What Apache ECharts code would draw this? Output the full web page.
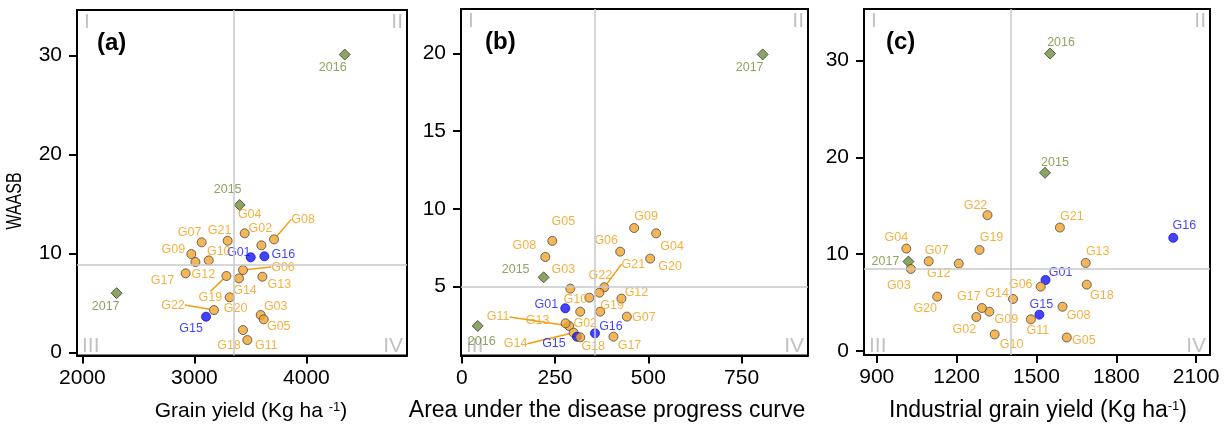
<!DOCTYPE html>
<html><head><meta charset="utf-8">
<script src="https://cdn.jsdelivr.net/npm/echarts@6/dist/echarts.min.js"></script>
<style>html,body{margin:0;padding:0;background:#fff}#c{width:1226px;height:425px}</style>
</head><body><div id="c"></div>
<script>
// ---------------- data ----------------
const genotypes = ['G01','G02','G03','G04','G05','G06','G07','G08','G09','G10','G11','G12','G13','G14','G15','G16','G17','G18','G19','G20','G21','G22'];
const highlighted = ['G01','G15','G16'];
const years = ['2015','2016','2017'];

// (a) grain yield vs WAASB
const grainYieldGeno = [3503,3598,3592,3449,3619,3434,3065,3711,2973,3128,3473,3009,3607,3398,3104,3625,2922,3434,3286,3315,3297,3175];
const waasbGrainGeno = [9.62,10.83,3.79,12.04,3.35,8.33,11.13,11.43,9.95,9.31,1.26,9.14,7.66,7.49,3.62,9.72,8.0,2.27,7.73,5.58,11.29,4.29];
const grainYieldYear = [3404,4342,2306];
const waasbGrainYear = [14.9,30.1,6.0];

// (b) AUDPC vs WAASB
const audpcGeno = [277.5,317.6,291,521,242.7,424.7,442.6,224,462,342,288,428,278.3,299.7,308.8,357,406.7,317.6,371,505,382,369];
const waasbAudpcGeno = [3.61,3.39,4.87,8.43,7.94,7.25,3.07,6.91,8.77,4.29,2.47,4.23,2.64,2.04,1.78,2.0,1.78,1.74,3.39,6.8,4.96,4.61];
const audpcYear = [219.5,42.8,806.5];
const waasbAudpcYear = [5.6,2.47,19.94];

// (c) industrial grain yield vs WAASB
const indYieldGeno = [1534,1274,1028,1011,1614,1516,1095,1598,1323,1343,1479,1208,1685,1412,1511,2014,1295,1689,1286,1127,1588,1316];
const waasbIndGeno = [7.34,3.52,8.48,10.58,1.41,6.65,9.27,4.58,4.07,1.72,3.28,9.03,9.10,5.38,3.76,11.69,4.45,6.86,10.44,5.62,12.75,14.03];
const indYieldYear = [1532,1551,1019];
const waasbIndYear = [18.4,30.7,9.24];

// mean reference lines
const meanX = [3351, 356, 1402];
const meanY = [8.84, 4.97, 8.45];

// tick labels
const xTicksA = [2000,3000,4000];
const xTicksB = [0,250,500,750];
const xTicksC = [900,1200,1500,1800,2100];
const yTicksA = [0,10,20,30];
const yTicksB = [5,10,15,20];
const yTicksC = [0,10,20,30];

const panelTags = ['(a)','(b)','(c)'];
const quadrantNames = ['I','II','III','IV'];

// ---------------- styles / layout ----------------
const FONT = "'Liberation Sans', Arial, Helvetica, sans-serif";
const ORANGE = '#F39E10', ORANGE_FILL = '#F2A42A', BLUE = '#1414FA', GREEN = '#6F8E3A';

const labelOffsets = [
 {G01:[-12,-5],G02:[-1,-17],G03:[15,-8],G04:[5,-19],G05:[15,7],G06:[40,-3],G07:[-12,-10],G08:[29,-20],G09:[-18,-4],G10:[10,-9],G11:[19,5],G12:[8,13],G13:[17,8],G14:[6,12],G15:[-15,12],G16:[19,-2],G17:[-23,7],G18:[-14,15],G19:[-16,22],G20:[6,11],G21:[-8,-10],G22:[-41,-5],'2015':[-12,-15],'2016':[-12,13],'2017':[-11,13]},
 {G01:[-19,-4],G02:[5,12],G03:[-7,-19],G04:[16,13],G05:[11,-19],G06:[-14,-11],G07:[17,1],G08:[-21,-11],G09:[12,-11],G10:[-14,2],G11:[-71,-9],G12:[15,-6],G13:[-28,-3],G14:[-58,11],G15:[-23,7],G16:[16,-7],G17:[16,9],G18:[13,9],G19:[12,-6],G20:[20,8],G21:[29,-23],G22:[1,-17],'2015':[-28,-8],'2016':[4,16],'2017':[-13,13]},
 {G01:[15,-7],G02:[-12,13],G03:[-12,17],G04:[-10,-11],G05:[17,3],G06:[-20,-2],G07:[8,-11],G08:[16,9],G09:[17,8],G10:[17,10],G11:[7,11],G12:[-20,10],G13:[12,-11],G14:[-16,-5],G15:[2,-10],G16:[11,-12],G17:[-13,-11],G18:[15,11],G19:[12,-12],G20:[-12,12],G21:[12,-11],G22:[-12,-10],'2015':[10,-10],'2016':[11,-11],'2017':[-23,0]}
];
const leaders = [['G06','G08','G19','G22'],['G11','G14','G21'],[]];

const grids = [
  {left:77, top:10, width:330, height:345.5},
  {left:461, top:9, width:347, height:346.5},
  {left:864, top:9, width:346, height:346}
];
const xRanges = [[1952,4898],[-2,928],[852,2152]];
const yRanges = [[-0.3,34.6],[0.57,22.86],[-0.4,35.3]];
const xTicks = [xTicksA,xTicksB,xTicksC];
const yTicks = [yTicksA,yTicksB,yTicksC];
const genoX = [grainYieldGeno,audpcGeno,indYieldGeno];
const genoY = [waasbGrainGeno,waasbAudpcGeno,waasbIndGeno];
const yearX = [grainYieldYear,audpcYear,indYieldYear];
const yearY = [waasbGrainYear,waasbAudpcYear,waasbIndYear];

const plain = v => String(v);
const xAxes = [], yAxes = [], series = [], graphics = [];
grids.forEach((g,i)=>{
  xAxes.push({gridIndex:i,type:'value',min:xRanges[i][0],max:xRanges[i][1],
    splitLine:{show:false},
    axisLine:{show:true,onZero:false,lineStyle:{color:'#000',width:2}},
    axisTick:{show:true,length:8,customValues:xTicks[i],lineStyle:{color:'#000',width:2}},
    axisLabel:{customValues:xTicks[i],formatter:plain,fontSize:21,color:'#000',margin:12,fontFamily:FONT}});
  yAxes.push({gridIndex:i,type:'value',min:yRanges[i][0],max:yRanges[i][1],
    splitLine:{show:false},
    axisLine:{show:true,onZero:false,lineStyle:{color:'#000',width:2}},
    axisTick:{show:true,length:8,customValues:yTicks[i],lineStyle:{color:'#000',width:2}},
    axisLabel:{customValues:yTicks[i],formatter:plain,fontSize:21,color:'#000',margin:15,fontFamily:FONT}});
  // mean lines
  series.push({type:'scatter',xAxisIndex:i,yAxisIndex:i,data:[],z:1,silent:true,
    markLine:{silent:true,symbol:'none',label:{show:false},animation:false,
      lineStyle:{color:'#C9C9C9',width:1.5,type:'solid'},
      data:[{xAxis:meanX[i]},{yAxis:meanY[i]}]}});
  // genotypes
  series.push({type:'scatter',xAxisIndex:i,yAxisIndex:i,z:4,symbol:'circle',symbolSize:9,silent:true,
    itemStyle:{color:ORANGE_FILL,borderColor:'#4a4a4a',borderWidth:1},
    label:{show:true,position:'inside',formatter:'{b}',fontSize:12.5,fontFamily:FONT,color:ORANGE,align:'center',verticalAlign:'middle'},
    data:genotypes.map((name,k)=>{
      const hi = highlighted.includes(name);
      return {name, value:[genoX[i][k],genoY[i][k]],
        itemStyle: hi ? {color:BLUE,borderColor:'#1010c8',borderWidth:1} : undefined,
        label:{offset:labelOffsets[i][name],color: hi?BLUE:ORANGE},
        labelLine:{show:leaders[i].includes(name),lineStyle:{color:hi?BLUE:ORANGE,width:1.5}}};
    })});
  // years
  series.push({type:'scatter',xAxisIndex:i,yAxisIndex:i,z:3,symbol:'diamond',symbolSize:11,silent:true,
    itemStyle:{color:GREEN,borderColor:'#3b3b3b',borderWidth:1},
    label:{show:true,position:'inside',formatter:'{b}',fontSize:12.5,fontFamily:FONT,color:GREEN,align:'center',verticalAlign:'middle'},
    data:years.map((name,k)=>({name,value:[yearX[i][k],yearY[i][k]],label:{offset:labelOffsets[i][name]}}))});
  // panel tag
  graphics.push({type:'text',left:g.left+[20,24,22][i],top:g.top+21,z:10,silent:true,
    style:{text:panelTags[i],font:`bold 24px ${FONT}`,fill:'#000'}});
  // quadrant labels
  const qs = {font:`21px ${FONT}`,fill:'#C2C2C2',verticalAlign:'middle'};
  graphics.push({type:'text',x:g.left+7,y:g.top+12,silent:true,style:Object.assign({text:quadrantNames[0],align:'left'},qs)});
  graphics.push({type:'text',x:g.left+g.width-4,y:g.top+12,silent:true,style:Object.assign({text:quadrantNames[1],align:'right'},qs)});
  graphics.push({type:'text',x:g.left+5,y:g.top+g.height-9,silent:true,style:Object.assign({text:quadrantNames[2],align:'left'},qs)});
  graphics.push({type:'text',x:g.left+g.width-4,y:g.top+g.height-9,silent:true,style:Object.assign({text:quadrantNames[3],align:'right'},qs)});
});

// axis titles
const supRich = {sup:{fontSize:13,fontFamily:FONT,fill:'#000',verticalAlign:'top',padding:[0,0,8,0]}};
graphics.push({type:'text',x:251,y:411,silent:true,style:{text:'Grain yield (Kg ha {sup|-1})',font:`21px ${FONT}`,fill:'#000',align:'center',verticalAlign:'middle',rich:supRich}});
graphics.push({type:'text',x:607,y:411,silent:true,style:{text:'Area under the disease progress curve',font:`23px ${FONT}`,fill:'#000',align:'center',verticalAlign:'middle'}});
graphics.push({type:'text',x:1038,y:411,silent:true,style:{text:'Industrial grain yield (Kg ha{sup|-1})',font:`23px ${FONT}`,fill:'#000',align:'center',verticalAlign:'middle',rich:supRich}});
graphics.push({type:'text',x:15,y:201,rotation:Math.PI/2,scaleX:0.76,scaleY:1.05,silent:true,style:{text:'WAASB',fontSize:21,fontFamily:FONT,fill:'#000',align:'center',verticalAlign:'middle'}});

const chart = echarts.init(document.getElementById('c'),null,{renderer:'canvas'});
chart.setOption({
  animation:false,
  backgroundColor:'#fff',
  grid: grids.map(g=>Object.assign({show:true,borderColor:'#000',borderWidth:2,backgroundColor:'transparent'},g)),
  xAxis:xAxes, yAxis:yAxes, series, graphic:graphics
});
</script></body></html>
